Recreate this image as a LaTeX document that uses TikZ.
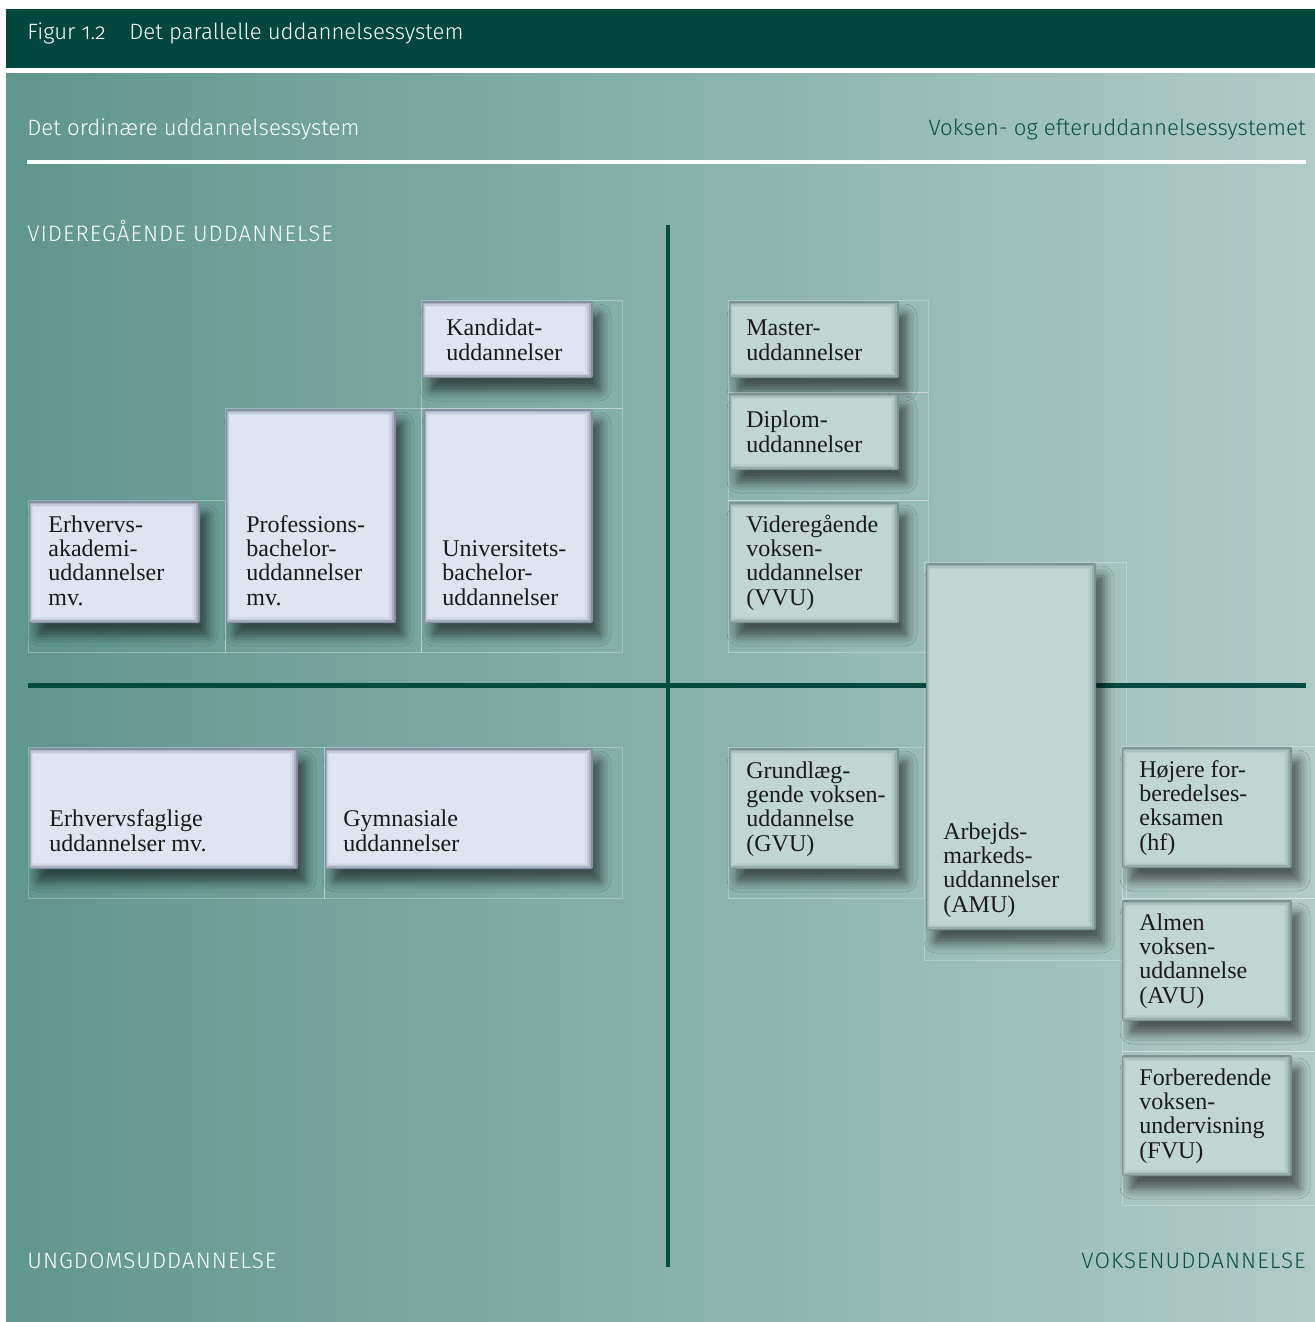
\documentclass[tikz,border=0pt]{standalone}
\usepackage{fontspec}
\setmainfont{Liberation Serif}
\IfFontExistsTF{Fira Sans Light}{\newfontfamily\hsans[Numbers=OldStyle]{Fira Sans Light}\newfontfamily\hcaps[LetterSpace=4.5]{Fira Sans Light}}{\newfontfamily\hsans[Numbers=OldStyle]{Fira Sans}\newfontfamily\hcaps[LetterSpace=4.5]{Fira Sans}}
\usetikzlibrary{shadows.blur}
\definecolor{hdrgreen}{HTML}{02473D}
\definecolor{darkline}{HTML}{05493F}
\definecolor{rtext}{HTML}{0A4F45}
\definecolor{panL}{HTML}{5F968E}
\definecolor{panR}{HTML}{B1CBC7}
\definecolor{lfill}{HTML}{DFE5F0}
\definecolor{ledge}{HTML}{858FA0}
\definecolor{rfill}{HTML}{C0D6D3}
\definecolor{redge}{HTML}{7A9592}
\definecolor{boxtext}{HTML}{1A1A1A}
\newcommand\stk[1]{\vbox{\baselineskip=12.15pt\lineskiplimit=-100pt\lineskip=0pt\halign{##\hfil\cr#1\crcr}}}
% box with bevel: x1 y1 x2 y2 fill edge
\newcommand\bevbox[6]{%
  \path[blur shadow={shadow xshift=4pt,shadow yshift=-6.5pt,shadow blur radius=5pt,shadow opacity=55},
        fill=#6, rounded corners=1pt] (#1,#2) rectangle (#3,#4);
  \fill[#5!40!#6] (#1+1,#2+1.5) rectangle (#3-2,#4-1.5);
  \fill[#5!70!#6] (#1+2,#2+3) rectangle (#3-4,#4-3);
  \fill[#5!88!#6] (#1+3,#2+4.5) rectangle (#3-6,#4-4.5);
  \fill[#5] (#1+3.5,#2+6) rectangle (#3-8,#4-6);
}
\tikzset{
  x=0.5pt, y=-0.5pt,
  frame/.style={draw=white, draw opacity=0.28, line width=0.5pt},
  btext/.style={anchor=base west, inner sep=0pt, font=\fontsize{12}{12.15}\selectfont, text=boxtext},
  wlab/.style={inner sep=0pt, font=\hsans\fontsize{11.1}{13}\selectfont, text=white},
  glab/.style={inner sep=0pt, font=\hsans\fontsize{11.1}{13}\selectfont, text=rtext},
  wcap/.style={inner sep=0pt, font=\hcaps\fontsize{11.2}{13}\selectfont, text=white},
  gcap/.style={inner sep=0pt, font=\hcaps\fontsize{11.2}{13}\selectfont, text=rtext},
  divider/.style={draw=darkline, line cap=butt},
}
\begin{document}
\begin{tikzpicture}
\useasboundingbox (0,0) rectangle (1315,1322);
\fill[white] (0,0) rectangle (1315,1322);
% header
\fill[hdrgreen] (6,9) rectangle (1315,68);
\node[wlab, anchor=base west] (fig) at (27,40) {Figur 1.2};
\node[wlab, anchor=base west] (title) at (129,40) {Det parallelle uddannelsessystem};
% panel
\shade[left color=panL, right color=panR] (6,74) rectangle (1315,1322);
% top labels
\node[wlab, anchor=base west] (lord) at (27,135) {Det ordinære uddannelsessystem};
\node[glab, anchor=base east] (lvok) at (1306,135) {Voksen- og efteruddannelsessystemet};
\draw[white, line width=2pt] (27,162) -- (1306,162);
\node[wcap, anchor=base west] (lvid) at (27,241) {VIDEREGÅENDE UDDANNELSE};
\node[wcap, anchor=base west] (lung) at (27,1268) {UNGDOMSUDDANNELSE};
\node[gcap, anchor=base east] (lvoks) at (1306,1268) {VOKSENUDDANNELSE};
% thin frames
\draw[frame] (421,300) rectangle (622,408);
\draw[frame] (28,500) rectangle (225,652);
\draw[frame] (225,408) rectangle (421,652);
\draw[frame] (421,408) rectangle (622,652);
\draw[frame] (28,747) rectangle (324,898);
\draw[frame] (324,747) rectangle (622,898);
\draw[frame] (728,300) rectangle (928,392);
\draw[frame] (728,392) rectangle (928,500);
\draw[frame] (728,500) rectangle (928,652);
\draw[frame] (728,747) rectangle (924,898);
\draw[frame] (924,562) rectangle (1126,960);
\draw[frame] (1122,746) rectangle (1315,898);
\draw[frame] (1122,898) rectangle (1315,1051);
\draw[frame] (1122,1051) rectangle (1315,1205);
% dividers
\coordinate (vtop) at (668,225);
\coordinate (vbot) at (668,1267);
\coordinate (hl) at (28,685);
\coordinate (hr) at (1306,685);
\draw[divider, line width=2pt] (vtop) -- (vbot);
\draw[divider, line width=2.5pt] (hl) -- (hr);
% boxes: ordinary system
\bevbox{422}{301}{593}{378}{lfill}{ledge}
\bevbox{29}{501}{200}{623}{lfill}{ledge}
\bevbox{226}{409}{396}{623}{lfill}{ledge}
\bevbox{424}{409}{593}{623}{lfill}{ledge}
\bevbox{29}{748}{298}{869}{lfill}{ledge}
\bevbox{325}{748}{593}{869}{lfill}{ledge}
% boxes: adult system
\bevbox{729}{301}{899}{378}{rfill}{redge}
\bevbox{729}{393}{899}{470}{rfill}{redge}
\bevbox{729}{502}{899}{623}{rfill}{redge}
\bevbox{729}{748}{899}{869}{rfill}{redge}
\bevbox{926}{563}{1096}{930}{rfill}{redge}
\bevbox{1122}{747}{1292}{868}{rfill}{redge}
\bevbox{1122}{900}{1292}{1021}{rfill}{redge}
\bevbox{1122}{1055}{1292}{1176}{rfill}{redge}
% texts
\node[btext] (kand) at (446,360) {\stk{Kandidat-\cr uddannelser}};
\node[btext] (erak) at (48,605) {\stk{Erhvervs-\cr akademi-\cr uddannelser\cr mv.}};
\node[btext] (prof) at (246,605) {\stk{Professions-\cr bachelor-\cr uddannelser\cr mv.}};
\node[btext] (univ) at (442,605) {\stk{Universitets-\cr bachelor-\cr uddannelser}};
\node[btext] (erfa) at (49,851) {\stk{Erhvervsfaglige\cr uddannelser mv.}};
\node[btext] (gym) at (343,851) {\stk{Gymnasiale\cr uddannelser}};
\node[btext] (mast) at (746,360) {\stk{Master-\cr uddannelser}};
\node[btext] (dipl) at (746,452) {\stk{Diplom-\cr uddannelser}};
\node[btext] (vvu) at (746,605) {\stk{Videregående\cr voksen-\cr uddannelser\cr (VVU)}};
\node[btext] (gvu) at (746,851) {\stk{Grundlæg-\cr gende voksen-\cr uddannelse\cr (GVU)}};
\node[btext] (amu) at (943,912) {\stk{Arbejds-\cr markeds-\cr uddannelser\cr (AMU)}};
\node[btext] (hf) at (1139,850) {\stk{Højere for-\cr beredelses-\cr eksamen\cr (hf)}};
\node[btext] (avu) at (1139,1003) {\stk{Almen\cr voksen-\cr uddannelse\cr (AVU)}};
\node[btext] (fvu) at (1139,1158) {\stk{Forberedende\cr voksen-\cr undervisning\cr (FVU)}};
\end{tikzpicture}
\end{document}
